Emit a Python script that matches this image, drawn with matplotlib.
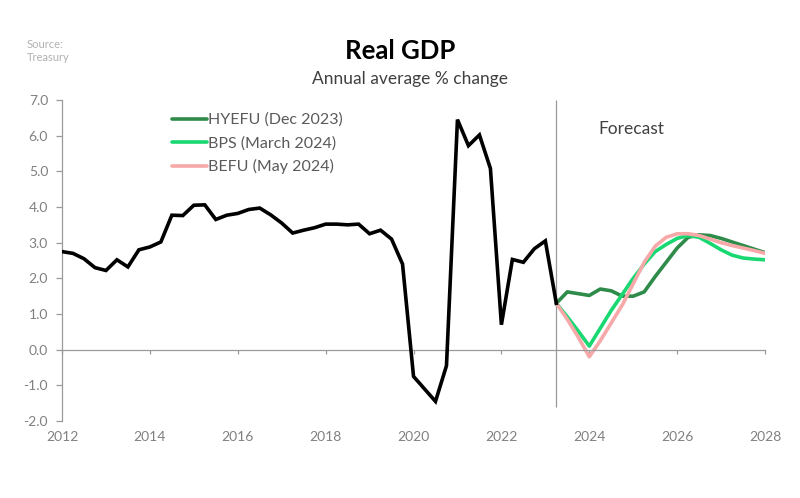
import matplotlib

matplotlib.use("Agg")
import matplotlib.pyplot as plt
import numpy as np

plt.rcParams["font.family"] = ["Lato", "DejaVu Sans"]

# Historical real GDP, annual average % change, quarterly from 2012 Q1
hist_start = 2012.0
hist_values = [
    2.75, 2.70, 2.55, 2.30, 2.22, 2.52, 2.32, 2.80,
    2.88, 3.02, 3.77, 3.76, 4.05, 4.06, 3.65, 3.77,
    3.82, 3.93, 3.97, 3.78, 3.55, 3.27, 3.35, 3.42,
    3.52, 3.52, 3.50, 3.52, 3.25, 3.35, 3.10, 2.40,
    -0.75, -1.10, -1.45, -0.45, 6.45, 5.72, 6.02, 5.08,
    0.70, 2.53, 2.45, 2.83, 3.05, 1.30,
]

# Forecasts, quarterly from the last actual
forecast_start = 2023.25
hyefu_values = [
    1.30, 1.62, 1.57, 1.52, 1.70, 1.65, 1.50, 1.50, 1.62, 2.05,
    2.45, 2.85, 3.15, 3.22, 3.20, 3.12, 3.02, 2.92, 2.82, 2.72,
]
bps_values = [
    1.30, 0.92, 0.52, 0.10, 0.60, 1.10, 1.55, 2.00, 2.40, 2.75,
    2.95, 3.12, 3.20, 3.15, 2.98, 2.80, 2.65, 2.57, 2.54, 2.52,
]
befu_values = [
    1.30, 0.85, 0.35, -0.20, 0.25, 0.75, 1.25, 1.85, 2.45, 2.90,
    3.15, 3.25, 3.25, 3.20, 3.10, 3.00, 2.92, 2.85, 2.78, 2.70,
]

forecasts = [
    ("HYEFU (Dec 2023)", hyefu_values, "#2e8b4a"),
    ("BPS (March 2024)", bps_values, "#19d872"),
    ("BEFU (May 2024)", befu_values, "#f7a8a8"),
]

x_ticks = list(range(2012, 2029, 2))
y_ticks = np.arange(-2.0, 7.5, 1.0)

grey = "#9a9a9a"
label_grey = "#808080"

fig = plt.figure(figsize=(8.0, 4.98), dpi=100)
ax = fig.add_axes([0.0775, 0.1546, 0.8788, 0.6446])

x_hist = hist_start + 0.25 * np.arange(len(hist_values))
x_fc = forecast_start + 0.25 * np.arange(len(hyefu_values))

for name, vals, color in forecasts:
    ax.plot(x_fc, vals, color=color, linewidth=2.6, label=name, solid_capstyle="round")

ax.plot(x_hist, hist_values, color="black", linewidth=2.6, zorder=5, solid_joinstyle="miter")

# forecast divider
ax.vlines(forecast_start, -1.6, 7.0, color=grey, linewidth=0.9, zorder=1)
ax.text(forecast_start + 0.95, 6.2, "Forecast", fontsize=12.5, color="#404040", va="center")

ax.set_xlim(2012, 2028)
ax.set_ylim(-2.0, 7.0)

# y axis
ax.set_yticks(y_ticks)
ax.set_yticklabels([f"{v:.1f}" for v in y_ticks])
ax.tick_params(axis="y", direction="out", length=4, width=0.9, color=grey,
               labelcolor=label_grey, labelsize=10, pad=6)
ax.spines["left"].set_color(grey)
ax.spines["left"].set_linewidth(0.9)

# x axis line sits at zero, labels along the bottom
ax.spines["bottom"].set_position(("data", 0))
ax.spines["bottom"].set_color(grey)
ax.spines["bottom"].set_linewidth(0.9)
ax.set_xticks(x_ticks)
ax.tick_params(axis="x", direction="out", length=3, width=0.9, color=grey, labelbottom=False)
for side in ("top", "right"):
    ax.spines[side].set_visible(False)

sec = ax.secondary_xaxis(0)
sec.set_xticks(x_ticks)
sec.set_xticklabels([str(t) for t in x_ticks])
sec.tick_params(axis="x", length=0, labelcolor=label_grey, labelsize=10, pad=7)
sec.spines["bottom"].set_visible(False)

leg = ax.legend(loc="upper left", bbox_to_anchor=(0.14, 0.995), frameon=False,
                fontsize=11.5, handlelength=2.2, handletextpad=0.05, labelspacing=0.55,
                borderaxespad=0.3)
for txt in leg.get_texts():
    txt.set_color("#5a5a5a")

fig.text(0.5, 0.898, "Real GDP", ha="center", va="center", fontsize=18.5, fontweight="bold")
fig.text(0.513, 0.842, "Annual average % change", ha="center", va="center",
         fontsize=12.5, color="#404040")
fig.text(0.033, 0.897, "Source:\nTreasury", ha="left", va="center", fontsize=8,
         color="#b0b0b0", linespacing=1.2)

fig.savefig("out.png", dpi=100)
plt.close(fig)
